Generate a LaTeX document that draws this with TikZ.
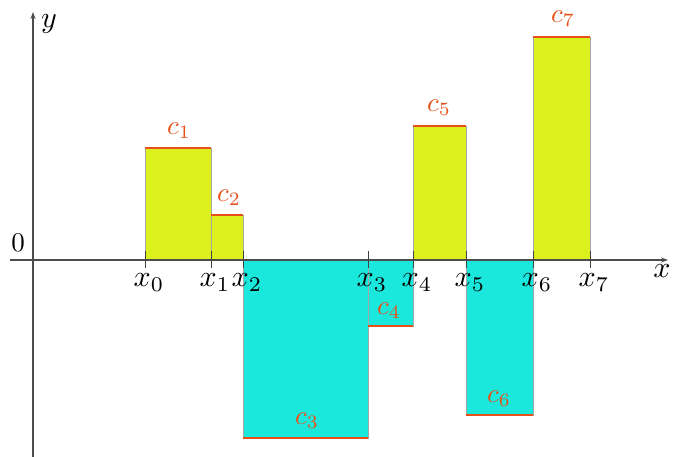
\documentclass[tikz,border=0pt]{standalone}
\usetikzlibrary{arrows.meta}
\definecolor{barup}{HTML}{DCF01E}
\definecolor{bardown}{HTML}{1AE8DC}
\definecolor{topline}{HTML}{E8501A}

\begin{document}
\begin{tikzpicture}[x=1pt,y=-1pt,
  axis/.style={black!70,line width=1.3pt},
  tick/.style={black!75,line width=1pt},
  upbar/.style={fill=barup,draw=black!35,line width=0.7pt},
  downbar/.style={fill=bardown,draw=black!35,line width=0.7pt},
  level/.style={topline,line width=2.6pt},
  biglab/.style={scale=3,inner sep=0pt},
  xlab/.style={scale=3,anchor=north,inner sep=0pt},
  clab/.style={scale=2.7,text=topline,inner sep=0pt}]
\useasboundingbox (0,0) rectangle (673,457);
% bars above the axis
\draw[upbar] (145,260) rectangle (211,148);
\draw[upbar] (211,260) rectangle (243,215);
\draw[upbar] (413,260) rectangle (466,126);
\draw[upbar] (533,260) rectangle (590,37);
% bars below the axis
\draw[downbar] (243,260) rectangle (368,438);
\draw[downbar] (368,260) rectangle (413,326);
\draw[downbar] (466,260) rectangle (533,415);
% levels c_i
\draw[level] (145,148) -- (211,148);
\draw[level] (211,215) -- (243,215);
\draw[level] (243,438) -- (368,438);
\draw[level] (368,326) -- (413,326);
\draw[level] (413,126) -- (466,126);
\draw[level] (466,415) -- (533,415);
\draw[level] (533,37) -- (590,37);
% axes
\coordinate (xs) at (10,260);
\coordinate (xe) at (668,260);
\coordinate (ys) at (33,457);
\coordinate (ye) at (33,12);
\draw[axis,-{Stealth[length=7pt,width=5pt]}] (xs) -- (xe);
\draw[axis,-{Stealth[length=7pt,width=5pt]}] (ys) -- (ye);
\node[biglab] (ylab) at (49,24) {$y$};
\node[biglab] (xlab) at (662,271) {$x$};
\node[biglab,scale=0.9] (zero) at (18,243) {$0$};
% ticks
\foreach \n/\p in {0/145,1/211,2/243,3/368,4/413,5/466,6/533,7/590}{
  \coordinate (t\n) at (\p,251);
  \coordinate (b\n) at (\p,268);
  \draw[tick] (t\n) -- (b\n);
  \node[xlab] (x\n) at (\p+4,273) {$x_{\n}$};
}
% labels c_i
\node[clab] (c1) at (179,131) {$c_1$};
\node[clab] (c2) at (229,198) {$c_2$};
\node[clab] (c3) at (307,421) {$c_3$};
\node[clab] (c4) at (389,311) {$c_4$};
\node[clab] (c5) at (439,108) {$c_5$};
\node[clab] (c6) at (499,399) {$c_6$};
\node[clab] (c7) at (563,19) {$c_7$};
\end{tikzpicture}
\end{document}
